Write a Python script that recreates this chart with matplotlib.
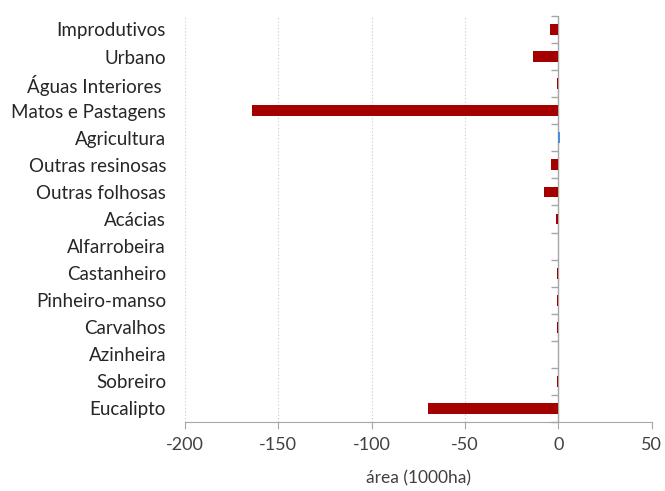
import matplotlib.pyplot as plt
import numpy as np

plt.rcParams['font.family'] = ['Lato', 'DejaVu Sans']

# land-use change by class (1000 ha), top to bottom
categories = ['Improdutivos', 'Urbano', 'Águas Interiores ', 'Matos e Pastagens',
              'Agricultura', 'Outras resinosas', 'Outras folhosas', 'Acácias',
              'Alfarrobeira', 'Castanheiro', 'Pinheiro-manso', 'Carvalhos',
              'Azinheira', 'Sobreiro', 'Eucalipto']
values = [-4.5, -13.6, -0.8, -164.0, 0.8, -3.9, -7.5, -1.2,
          0.0, -0.5, -0.8, -0.5, 0.0, -0.5, -70.0]
xticks = [-200, -150, -100, -50, 0, 50]

red = '#A50000'
blue = '#4A8FDA'
axis_grey = '#A6A6A6'
colors = [blue if v > 0 else red for v in values]

fig = plt.figure(figsize=(6.65, 4.91), dpi=100)
ax = fig.add_axes([0.278, 0.1405, 0.702, 0.827])

y = np.arange(len(categories))
ax.barh(y, values, height=0.4, color=colors, zorder=3)

ax.set_xlim(-200, 50)
ax.set_ylim(len(categories) - 0.5, -0.5)
ax.set_xticks(xticks)
ax.set_xticklabels([str(t) for t in xticks], fontsize=13, color='#404040')
ax.tick_params(axis='x', direction='out', length=5, color=axis_grey, pad=6)
ax.set_xlabel('área (1000ha)', fontsize=12.5, color='#404040', labelpad=12)

ax.set_yticks(y)
ax.set_yticklabels(categories, fontsize=13.5, color='#262626')
ax.tick_params(axis='y', length=0, pad=13.5)

ax.grid(axis='x', linestyle=(0, (1, 2)), color='#C8C8C8', linewidth=0.8, zorder=0)
for side in ['top', 'right', 'left']:
    ax.spines[side].set_visible(False)
ax.spines['bottom'].set_color(axis_grey)

# vertical axis at zero with category boundary ticks pointing left
ax.axvline(0, color=axis_grey, linewidth=1.0, zorder=2)
ax0 = ax.secondary_yaxis(0.8)
ax0.set_yticks(np.arange(-0.5, len(categories), 1))
ax0.yaxis.set_ticks_position('left')
ax0.set_yticklabels([])
ax0.tick_params(axis='y', direction='out', length=5, color=axis_grey, width=1.0)
for sp in ax0.spines.values():
    sp.set_visible(False)

fig.savefig('out.png', dpi=100)
